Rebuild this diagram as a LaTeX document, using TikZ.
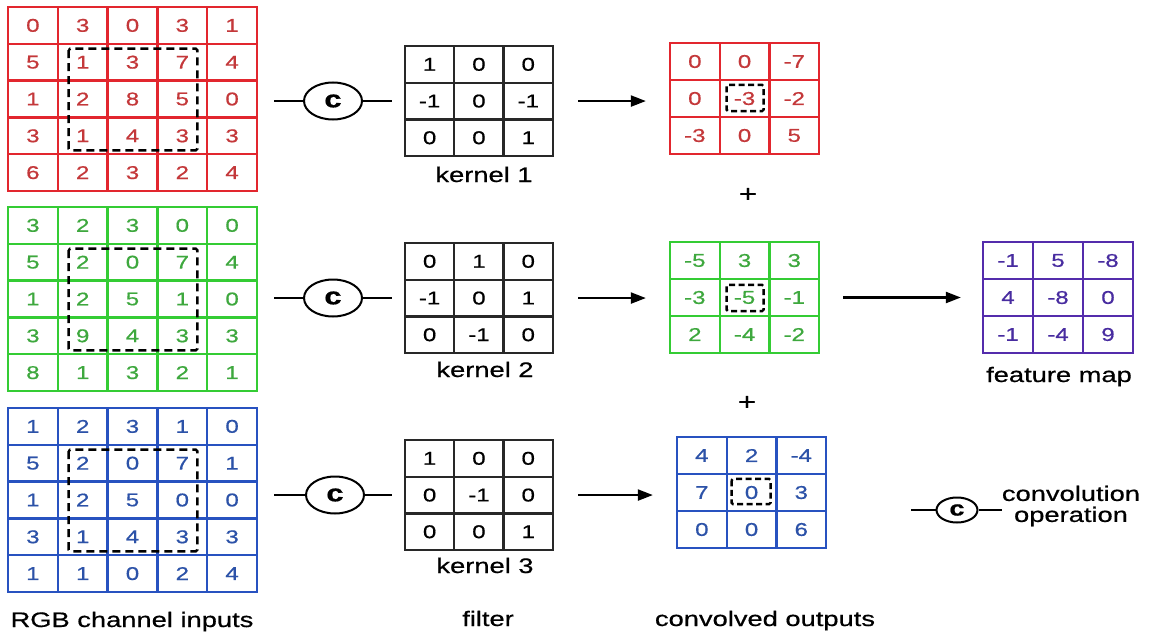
\documentclass[tikz,border=0pt]{standalone}
\usepackage{fontspec}
\setmainfont{Liberation Sans}[FakeStretch=1.3, UprightFeatures={FakeBold=0.6}, BoldFeatures={FakeBold=0.6}]
\usetikzlibrary{arrows.meta,calc,shapes.geometric}

\definecolor{redline}{RGB}{226,38,46}
\definecolor{redtext}{RGB}{196,56,58}
\definecolor{greenline}{RGB}{52,204,52}
\definecolor{greentext}{RGB}{62,168,62}
\definecolor{blueline}{RGB}{40,82,192}
\definecolor{bluetext}{RGB}{44,82,168}
\definecolor{purpleline}{RGB}{84,44,172}
\definecolor{purpletext}{RGB}{72,44,160}
\definecolor{inkline}{RGB}{40,40,40}

\tikzset{
  cellbox/.style={draw, line width=2.3pt, inner sep=0pt, anchor=center,
    font=\fontsize{18.5}{18.5}\selectfont},
  redcell/.style={cellbox, draw=redline, text=redtext},
  greencell/.style={cellbox, draw=greenline, text=greentext},
  bluecell/.style={cellbox, draw=blueline, text=bluetext},
  purplecell/.style={cellbox, draw=purpleline, text=purpletext},
  kernelcell/.style={cellbox, draw=inkline, text=black},
  window/.style={draw=black, line width=2.5pt, dash pattern=on 8pt off 5pt, rounded corners=1.5pt},
  smallwindow/.style={draw=black, line width=2.4pt, dash pattern=on 6pt off 3.5pt, rounded corners=1.5pt},
  convop/.style={ellipse, draw=black, line width=2pt, minimum width=58pt, minimum height=37pt,
    inner sep=0pt, font=\fontsize{24}{24}\selectfont\bfseries},
  wire/.style={draw=black, line width=2.2pt},
  flow/.style={draw=black, line width=2.2pt, -{Triangle[length=15pt,width=11pt]}},
  lbl/.style={inner sep=0pt, text=black, font=\fontsize{21}{21}\selectfont},
  plus/.style={inner sep=0pt, text=black, font=\fontsize{24}{24}\selectfont}
}

% \cellgrid{name}{left}{top}{cell width}{cell height}{style}{rows}
\newcommand\cellgrid[7]{%
  \foreach \row [count=\i] in {#7} {
    \foreach \v [count=\j] in \row {
      \node[#6, minimum width=#4pt, minimum height=#5pt] (#1-\i-\j)
        at ({#2+(\j-0.5)*#4},{#3+(\i-0.5)*#5}) {\v};
    }
  }
}

\begin{document}
\begin{tikzpicture}[x=1pt,y=-1pt]
\fill[white] (0,0) rectangle (1152,634);
\useasboundingbox (0,0) rectangle (1152,634);

% RGB input channels
\cellgrid{R}{8}{7}{49.8}{36.8}{redcell}{{0,3,0,3,1},{5,1,3,7,4},{1,2,8,5,0},{3,1,4,3,3},{6,2,3,2,4}}
\cellgrid{G}{8}{207}{49.8}{36.8}{greencell}{{3,2,3,0,0},{5,2,0,7,4},{1,2,5,1,0},{3,9,4,3,3},{8,1,3,2,1}}
\cellgrid{B}{8}{408}{49.8}{36.8}{bluecell}{{1,2,3,1,0},{5,2,0,7,1},{1,2,5,0,0},{3,1,4,3,3},{1,1,0,2,4}}

% sliding windows
\draw[window] ($(R-2-2.north west)+(12,6)$) rectangle ($(R-4-4.south east)+(-11,-5)$);
\draw[window] ($(G-2-2.north west)+(12,6)$) rectangle ($(G-4-4.south east)+(-11,-5)$);
\draw[window] ($(B-2-2.north west)+(12,6)$) rectangle ($(B-4-4.south east)+(-11,-5)$);

% kernels
\cellgrid{KA}{405}{46}{49.3}{36.7}{kernelcell}{{1,0,0},{-1,0,-1},{0,0,1}}
\cellgrid{KB}{405}{243}{49.3}{36.7}{kernelcell}{{0,1,0},{-1,0,1},{0,-1,0}}
\cellgrid{KC}{405}{440}{49.3}{36.7}{kernelcell}{{1,0,0},{0,-1,0},{0,0,1}}

\node[lbl, anchor=base] (kla) at (484,182) {kernel 1};
\node[lbl, anchor=base] (klb) at (485,377) {kernel 2};
\node[lbl, anchor=base] (klc) at (485,573) {kernel 3};

% convolution operators
\node[convop] (CA) at (333,101) {c};
\node[convop] (CB) at (333,298) {c};
\node[convop] (CC) at (335,495) {c};

\draw[wire, shorten <=16pt] (CA.west -| R-3-5.east) -- (CA.west);
\draw[wire, shorten >=12pt] (CA.east) -- (CA.east -| KA-2-1.west);
\draw[wire, shorten <=16pt] (CB.west -| G-3-5.east) -- (CB.west);
\draw[wire, shorten >=12pt] (CB.east) -- (CB.east -| KB-2-1.west);
\draw[wire, shorten <=16pt] (CC.west -| B-3-5.east) -- (CC.west);
\draw[wire, shorten >=12pt] (CC.east) -- (CC.east -| KC-2-1.west);

% convolved outputs
\cellgrid{OA}{670}{43}{49.7}{37}{redcell}{{0,0,-7},{0,-3,-2},{-3,0,5}}
\cellgrid{OB}{670}{242}{49.7}{37}{greencell}{{-5,3,3},{-3,-5,-1},{2,-4,-2}}
\cellgrid{OC}{677}{437}{49.7}{37}{bluecell}{{4,2,-4},{7,0,3},{0,0,6}}

\draw[smallwindow] ($(OA-2-2.north west)+(8,6)$) rectangle ($(OA-2-2.south east)+(-7,-7)$);
\draw[smallwindow] ($(OB-2-2.north west)+(8,7)$) rectangle ($(OB-2-2.south east)+(-7,-6)$);
\draw[smallwindow] ($(OC-2-2.north west)+(6,6)$) rectangle ($(OC-2-2.south east)+(-7,-8)$);

\draw[flow, shorten <=24pt, shorten >=23pt] (KA-2-3.east) -- (KA-2-3.east -| OA-2-1.west);
\draw[flow, shorten <=24pt, shorten >=23pt] (KB-2-3.east) -- (KB-2-3.east -| OB-2-1.west);
\draw[flow, shorten <=24pt, shorten >=23pt] (KC-2-3.east) -- (KC-2-3.east -| OC-2-1.west);

\node[plus] (pa) at (748,195) {+};
\node[plus] (pb) at (747,403) {+};

% feature map
\cellgrid{F}{983}{242}{50}{37}{purplecell}{{-1,5,-8},{4,-8,0},{-1,-4,9}}
\draw[flow, shorten <=23pt, shorten >=21pt] (OB-2-3.east) -- (OB-2-3.east -| F-2-1.west);
\node[lbl, anchor=base] (flbl) at (1059,382) {feature map};

% legend
\node[convop, minimum width=41pt, minimum height=25pt, font=\fontsize{21}{21}\selectfont\bfseries] (CL) at (957,510) {c};
\coordinate (CLa) at (911,510);
\coordinate (CLb) at (1002,510);
\draw[wire] (CLa) -- (CL.west);
\draw[wire] (CL.east) -- (CLb);
\node[lbl, align=center] (CLt) at (1071,506) {convolution\\operation};

% column captions
\node[lbl, anchor=base] (cap1) at (132,627) {RGB channel inputs};
\node[lbl, anchor=base] (cap2) at (488,626) {filter};
\node[lbl, anchor=base] (cap3) at (765,626) {convolved outputs};
\end{tikzpicture}
\end{document}
